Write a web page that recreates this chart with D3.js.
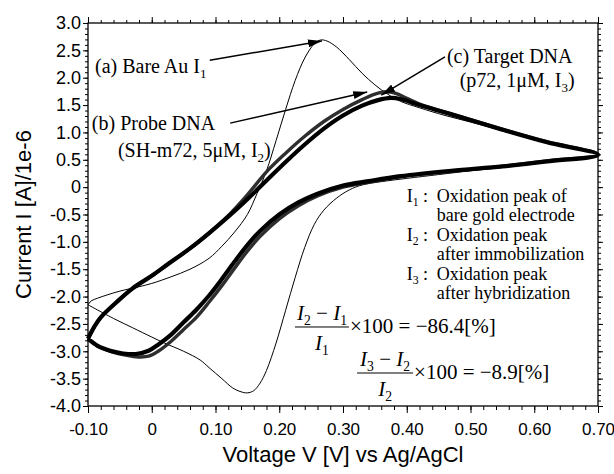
<!DOCTYPE html>
<html>
<head>
<meta charset="utf-8">
<script src="https://cdn.jsdelivr.net/npm/d3@7"></script>
<style>
  body { margin: 0; background: #fff; }
  .note { font-family: "Liberation Serif", "Times New Roman", serif; fill: #000; }
</style>
</head>
<body>
<div id="chart"></div>
<script>
// axis ticks
const xTickValues = [-0.1, 0, 0.1, 0.2, 0.3, 0.4, 0.5, 0.6, 0.7];
const xTickLabels = ["-0.10", "0", "0.10", "0.20", "0.30", "0.40", "0.50", "0.60", "0.70"];
const yTickValues = [3, 2.5, 2, 1.5, 1, 0.5, 0, -0.5, -1, -1.5, -2, -2.5, -3, -3.5, -4];
const yTickLabels = ["3.0", "2.5", "2.0", "1.5", "1.0", "0.5", "0", "-0.5", "-1.0", "-1.5", "-2.0", "-2.5", "-3.0", "-3.5", "-4.0"];

// (a) bare Au electrode, forward then reverse scan (V, 1e-6 A)
const bareFwdV = [-0.1, -0.095, -0.085, -0.07, -0.05, -0.02, 0.0, 0.03, 0.06, 0.09, 0.11, 0.13, 0.15, 0.165, 0.18, 0.195, 0.21, 0.225, 0.24, 0.255, 0.265, 0.275, 0.29, 0.31, 0.33, 0.35, 0.37, 0.39, 0.42, 0.46, 0.5, 0.55, 0.6, 0.65, 0.7];
const bareFwdI = [-2.15, -2.08, -2.03, -1.97, -1.9, -1.82, -1.76, -1.64, -1.5, -1.3, -1.08, -0.82, -0.5, -0.12, 0.3, 0.85, 1.42, 1.95, 2.36, 2.62, 2.69, 2.67, 2.56, 2.33, 2.08, 1.87, 1.7, 1.57, 1.45, 1.31, 1.19, 1.03, 0.87, 0.73, 0.6];
const bareRevV = [0.65, 0.6, 0.55, 0.5, 0.45, 0.4, 0.36, 0.33, 0.31, 0.29, 0.27, 0.255, 0.24, 0.225, 0.21, 0.195, 0.18, 0.17, 0.16, 0.15, 0.14, 0.127, 0.11, 0.09, 0.076, 0.05, 0.02, 0.0, -0.03, -0.06, -0.1];
const bareRevI = [0.5, 0.43, 0.36, 0.3, 0.23, 0.16, 0.1, 0.04, -0.05, -0.2, -0.42, -0.68, -1.1, -1.65, -2.25, -2.85, -3.35, -3.58, -3.72, -3.76, -3.74, -3.67, -3.5, -3.3, -3.16, -3.0, -2.85, -2.74, -2.57, -2.4, -2.15];

// (b) probe DNA and (c) target DNA
const dnaFwdV = [-0.1, -0.09, -0.08, -0.055, -0.03, 0.0, 0.025, 0.06, 0.09, 0.12, 0.15, 0.18, 0.21, 0.24, 0.27, 0.3, 0.33, 0.355, 0.375, 0.39, 0.42, 0.47, 0.55, 0.62, 0.7];
const probeFwdI = [-2.77, -2.55, -2.38, -2.1, -1.85, -1.62, -1.41, -1.12, -0.84, -0.52, -0.14, 0.28, 0.62, 0.93, 1.2, 1.42, 1.6, 1.72, 1.74, 1.68, 1.52, 1.34, 1.06, 0.83, 0.6];
const targetFwdI = [-2.77, -2.55, -2.38, -2.1, -1.85, -1.62, -1.41, -1.12, -0.84, -0.54, -0.22, 0.12, 0.46, 0.78, 1.07, 1.31, 1.49, 1.59, 1.63, 1.61, 1.5, 1.33, 1.05, 0.82, 0.59];
const dnaRevV = [0.62, 0.55, 0.47, 0.39, 0.34, 0.3, 0.26, 0.23, 0.2, 0.17, 0.15, 0.13, 0.11, 0.09, 0.07, 0.05, 0.03, 0.01, -0.005, -0.025, -0.045, -0.065, -0.085, -0.1];
const probeRevI = [0.48, 0.38, 0.29, 0.19, 0.09, 0.0, -0.16, -0.34, -0.58, -0.9, -1.17, -1.48, -1.8, -2.1, -2.38, -2.6, -2.82, -3.0, -3.09, -3.1, -3.06, -3.0, -2.9, -2.77];
const targetRevI = [0.47, 0.38, 0.3, 0.2, 0.11, 0.03, -0.12, -0.28, -0.5, -0.8, -1.06, -1.36, -1.68, -1.98, -2.24, -2.47, -2.7, -2.88, -2.99, -3.05, -3.04, -2.99, -2.9, -2.77];

class CvChart {
  constructor(parentElement) {
    this.parentElement = parentElement;
    this.initVis();
  }

  initVis() {
    let vis = this;
    vis.margin = { top: 23, right: 16, bottom: 68, left: 88 };
    vis.width = 614 - vis.margin.left - vis.margin.right;
    vis.height = 474 - vis.margin.top - vis.margin.bottom;

    vis.root = d3.select("#" + vis.parentElement).append("svg")
      .attr("width", 614)
      .attr("height", 474);
    vis.svg = vis.root.append("g")
      .attr("transform", `translate(${vis.margin.left}, ${vis.margin.top})`);

    vis.x = d3.scaleLinear().domain([-0.1, 0.7]).range([0, vis.width]);
    vis.y = d3.scaleLinear().domain([-4, 3]).range([vis.height, 0]);

    vis.drawAxes();
    vis.drawCurves();
    vis.drawNotes();
  }

  drawAxes() {
    let vis = this;
    const minorX = d3.range(-0.1, 0.7001, 0.02);
    const minorY = d3.range(-4, 3.001, 0.1);

    const addAxis = (axis, transform) => {
      const g = vis.svg.append("g").attr("transform", transform).call(axis);
      g.select(".domain").remove();
      g.attr("font-family", '"Liberation Sans", Arial, sans-serif').attr("font-size", 17);
      g.selectAll(".tick line").attr("stroke", "#000");
      g.selectAll(".tick text").attr("fill", "#000");
      return g;
    };

    const bottom = `translate(0,${vis.height})`;
    const right = `translate(${vis.width},0)`;

    addAxis(d3.axisBottom(vis.x).tickValues(minorX).tickSize(4).tickFormat(""), bottom);
    addAxis(d3.axisBottom(vis.x).tickValues(xTickValues).tickSize(7).tickPadding(10)
      .tickFormat((d, i) => xTickLabels[i]), bottom);
    addAxis(d3.axisTop(vis.x).tickValues(minorX).tickSize(3).tickFormat(""), "translate(0,0)");
    addAxis(d3.axisTop(vis.x).tickValues(xTickValues).tickSize(6).tickFormat(""), "translate(0,0)");
    addAxis(d3.axisLeft(vis.y).tickValues(minorY).tickSize(3).tickFormat(""), "translate(0,0)");
    addAxis(d3.axisLeft(vis.y).tickValues(yTickValues).tickSize(5).tickPadding(2)
      .tickFormat((d, i) => yTickLabels[i]), "translate(0,0)")
      .attr("font-size", 18);
    addAxis(d3.axisRight(vis.y).tickValues(minorY).tickSize(3).tickFormat(""), right);
    addAxis(d3.axisRight(vis.y).tickValues(yTickValues).tickSize(5).tickFormat(""), right);

    vis.svg.append("rect")
      .attr("width", vis.width)
      .attr("height", vis.height)
      .attr("fill", "none")
      .attr("stroke", "#000")
      .attr("stroke-width", 1.3);

    vis.root.append("text")
      .attr("transform", `translate(31, ${vis.margin.top + vis.height / 2}) rotate(-90)`)
      .attr("text-anchor", "middle")
      .attr("font-family", '"Liberation Sans", Arial, sans-serif')
      .attr("font-size", 22)
      .text("Current I [A]/1e-6");

    vis.root.append("text")
      .attr("x", vis.margin.left + vis.width / 2)
      .attr("y", 462)
      .attr("text-anchor", "middle")
      .attr("font-family", '"Liberation Sans", Arial, sans-serif')
      .attr("font-size", 22)
      .text("Voltage V [V] vs Ag/AgCl");
  }

  drawCurves() {
    let vis = this;
    vis.line = d3.line()
      .x(d => vis.x(d[0]))
      .y(d => vis.y(d[1]))
      .curve(d3.curveCatmullRom.alpha(0.5));

    const loop = (v1, i1, v2, i2) => d3.zip(v1, i1).concat(d3.zip(v2, i2));

    vis.curves = [
      { name: "bare", points: loop(bareFwdV, bareFwdI, bareRevV, bareRevI), color: "#000", width: 1 },
      { name: "probe", points: loop(dnaFwdV, probeFwdI, dnaRevV, probeRevI), color: "#2e2e2e", width: 3.4 },
      { name: "target", points: loop(dnaFwdV, targetFwdI, dnaRevV, targetRevI), color: "#000", width: 4.2 }
    ];

    vis.svg.append("g")
      .selectAll("path")
      .data(vis.curves)
      .enter()
      .append("path")
      .attr("class", d => "cv " + d.name)
      .attr("d", d => vis.line(d.points))
      .attr("fill", "none")
      .attr("stroke", d => d.color)
      .attr("stroke-width", d => d.width)
      .attr("stroke-linejoin", "round");
  }

  // text with subscripts / italics, parts = [{t, sub, it}]
  richText(x, y, parts, size, anchor) {
    let vis = this;
    const t = vis.svg.append("text")
      .attr("class", "note")
      .attr("x", x)
      .attr("y", y)
      .attr("font-size", size)
      .attr("text-anchor", anchor || "start")
      .style("white-space", "pre");
    let shift = 0;
    parts.forEach(p => {
      const target = p.sub ? size * 0.24 : 0;
      const s = t.append("tspan").text(p.t).attr("dy", target - shift);
      shift = target;
      if (p.sub) s.attr("font-size", size * 0.65);
      if (p.it) s.attr("font-style", "italic");
    });
    return t;
  }

  drawNotes() {
    let vis = this;

    vis.svg.append("defs").append("marker")
      .attr("id", "head")
      .attr("markerUnits", "userSpaceOnUse")
      .attr("markerWidth", 14)
      .attr("markerHeight", 8)
      .attr("refX", 14)
      .attr("refY", 4)
      .attr("orient", "auto")
      .append("path")
      .attr("d", "M0,0 L14,4 L0,8 Z")
      .attr("fill", "#000");

    const arrows = [
      [[0.091, 2.32], [0.267, 2.67]],
      [[0.123, 1.17], [0.338, 1.74]],
      [[0.46, 2.38], [0.36, 1.68]]
    ];
    vis.svg.append("g")
      .selectAll("line")
      .data(arrows)
      .enter()
      .append("line")
      .attr("x1", d => vis.x(d[0][0]))
      .attr("y1", d => vis.y(d[0][1]))
      .attr("x2", d => vis.x(d[1][0]))
      .attr("y2", d => vis.y(d[1][1]))
      .attr("stroke", "#000")
      .attr("stroke-width", 1.5)
      .attr("marker-end", "url(#head)");

    vis.richText(vis.x(-0.089), vis.y(2.09), [{ t: "(a) Bare Au I" }, { t: "1", sub: true }], 20);
    vis.richText(vis.x(-0.094), vis.y(1.04), [{ t: "(b) Probe DNA" }], 20);
    vis.richText(vis.x(-0.053), vis.y(0.55), [{ t: "(SH-m72, 5μM, I" }, { t: "2", sub: true }, { t: ")" }], 20);
    vis.richText(vis.x(0.463), vis.y(2.27), [{ t: "(c) Target DNA" }], 20);
    vis.richText(vis.x(0.483), vis.y(1.83), [{ t: "(p72, 1μM, I" }, { t: "3", sub: true }, { t: ")" }], 20);

    // legend of peaks
    const lx = vis.x(0.4), indent = 30, step = 19.4, y0 = vis.y(-0.27);
    const legend = [
      ["1", "Oxidation peak of", "bare gold electrode"],
      ["2", "Oxidation peak", "after immobilization"],
      ["3", "Oxidation peak", "after hybridization"]
    ];
    legend.forEach((row, k) => {
      const yy = y0 + step * 2 * k;
      vis.richText(lx, yy, [{ t: "I" }, { t: row[0], sub: true }, { t: " :" }], 18);
      vis.richText(lx + indent, yy, [{ t: row[1] }], 18);
      vis.richText(lx + indent, yy + step, [{ t: row[2] }], 18);
    });

    // ratio formulas
    const fraction = (cx, ly, half, num, den, rest) => {
      vis.richText(cx, ly - 7, num, 21, "middle");
      vis.richText(cx, ly + 23, den, 21, "middle");
      vis.svg.append("line")
        .attr("x1", cx - half).attr("x2", cx + half)
        .attr("y1", ly).attr("y2", ly)
        .attr("stroke", "#000").attr("stroke-width", 1);
      vis.richText(cx + half + 1, ly + 6, rest, 21);
    };
    fraction(vis.x(0.267), vis.y(-2.556), 27,
      [{ t: "I", it: true }, { t: "2", sub: true }, { t: " − " }, { t: "I", it: true }, { t: "1", sub: true }],
      [{ t: "I", it: true }, { t: "1", sub: true }],
      [{ t: "×100 = −86.4[%]" }]);
    fraction(vis.x(0.366), vis.y(-3.397), 28,
      [{ t: "I", it: true }, { t: "3", sub: true }, { t: " − " }, { t: "I", it: true }, { t: "2", sub: true }],
      [{ t: "I", it: true }, { t: "2", sub: true }],
      [{ t: "×100 = −8.9[%]" }]);
  }
}

new CvChart("chart");
</script>
</body>
</html>
